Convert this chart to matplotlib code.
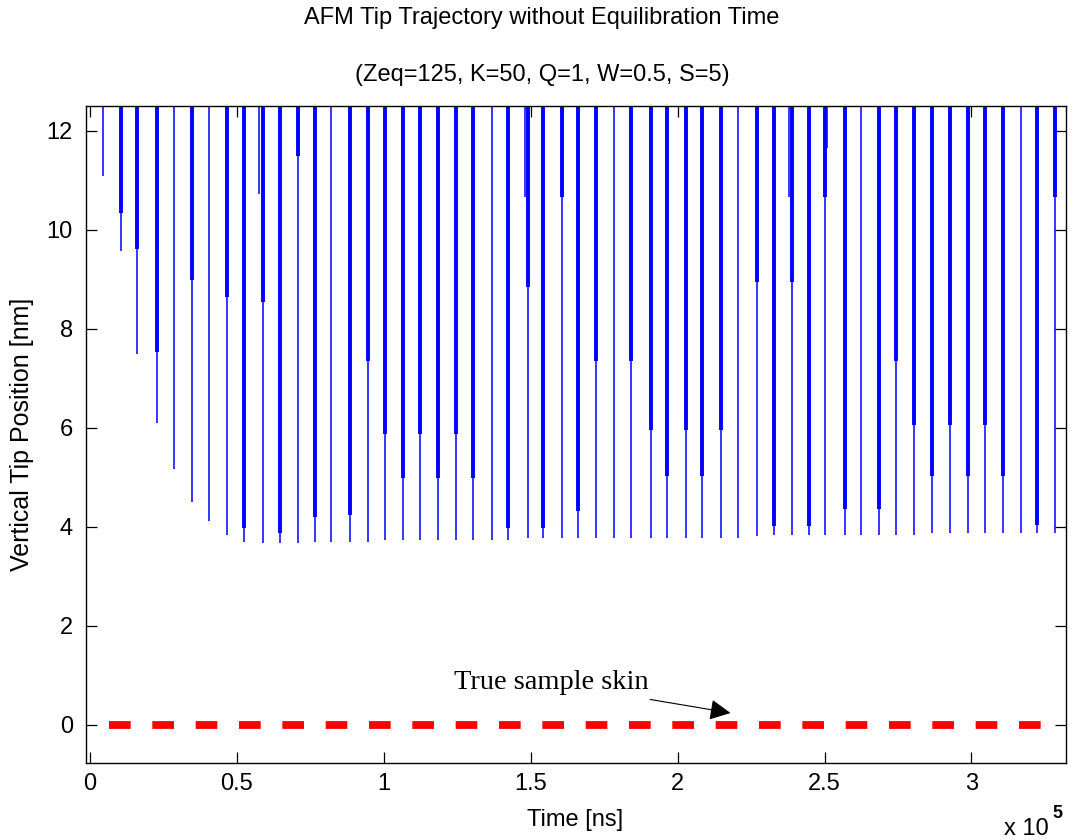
import numpy as np
import matplotlib
matplotlib.use('Agg')
from matplotlib import pyplot as plt

plt.rcParams['font.family'] = ['Liberation Sans', 'DejaVu Sans']
plt.rcParams['font.size'] = 17
plt.rcParams['lines.scale_dashes'] = False

# --- tip trajectory: one entry per tapping event ---
# tap time (ns), end of dense oscillation band (nm), deepest excursion (nm)
tap_t = np.array([4600, 10600, 16000, 22800, 28500, 34700, 40400, 46600, 52500, 58800,
                  64800, 70700, 76700, 82200, 88600, 94500, 100400, 106400, 112400, 118300,
                  124500, 130400, 136800, 142400, 149100, 154300, 160500, 166200, 172100, 178500,
                  184200, 190900, 196300, 202800, 208400, 214900, 220600, 226900, 232800, 238800,
                  244700, 250000, 256800, 262500, 268600, 274400, 280600, 286400, 292600, 298900,
                  304600, 310700, 316900, 322400, 328400])
band_z = np.array([np.nan, 10.34, 9.61, 7.53, np.nan, 8.99, np.nan, 8.64, 3.97, 8.55,
                   3.87, 11.48, 4.19, np.nan, 4.23, 7.34, 5.87, 4.98, 5.87, 4.98,
                   5.87, 4.98, np.nan, 3.97, 8.85, 3.97, 10.67, 4.31, 7.34, np.nan,
                   7.34, 5.96, 5.03, 5.96, 5.03, 5.96, np.nan, 8.94, 4.01, 8.94,
                   4.01, 10.67, 4.36, np.nan, 4.36, 7.34, 6.06, 5.03, 6.06, 5.03,
                   6.06, 5.03, np.nan, 4.04, 10.67])
min_z = np.array([11.09, 9.58, 7.49, 6.09, 5.17, 4.51, 4.11, 3.84, 3.70, 3.68,
                  3.68, 3.68, 3.70, 3.70, 3.70, 3.70, 3.74, 3.74, 3.74, 3.74,
                  3.74, 3.74, 3.74, 3.74, 3.77, 3.77, 3.77, 3.77, 3.77, 3.77,
                  3.77, 3.77, 3.77, 3.77, 3.77, 3.77, 3.77, 3.82, 3.84, 3.84,
                  3.84, 3.84, 3.84, 3.84, 3.84, 3.84, 3.84, 3.87, 3.87, 3.87,
                  3.87, 3.87, 3.87, 3.87, 3.87])

# short single swings that sit just beside a tap
side_t = np.array([57600, 148100, 161100, 237900, 250900])
side_z = np.array([10.72, 10.67, 11.62, 10.67, 11.65])

# sample surface
skin_t = np.array([6500, 323700])
skin_z = np.array([0.0, 0.0])

top_z = 13.0  # free oscillation runs off the top of the window

xticks = [0, 50000, 100000, 150000, 200000, 250000, 300000]
xticklabels = ['0', '0.5', '1', '1.5', '2', '2.5', '3']
yticks = [0, 2, 4, 6, 8, 10, 12]

fig = plt.figure(figsize=(10.72, 8.4), dpi=100)
ax = fig.add_axes([85.5 / 1072, 77 / 840, 980 / 1072, 657.5 / 840])

blue = '#0000FF'
ax.vlines(tap_t, min_z, top_z, color=blue, lw=1.1)
band = ~np.isnan(band_z)
ax.vlines(tap_t[band], band_z[band], top_z, color=blue, lw=2.8)
ax.vlines(side_t, side_z, top_z, color=blue, lw=1.1)

ax.plot(skin_t, skin_z, color='#FF0000', lw=5.6, dashes=(15.6, 15.6),
        solid_capstyle='butt', dash_capstyle='butt')

ax.annotate('True sample skin', xy=(218000, 0.24), xytext=(157000, 0.85),
            ha='center', va='center', fontsize=20.5, family=['Liberation Serif'],
            arrowprops=dict(arrowstyle='-|>', color='black', lw=0.8,
                            mutation_scale=32, shrinkA=6, shrinkB=0))

ax.set_xlim(-1500, 332000)
ax.set_ylim(-0.77, 12.51)
ax.set_xticks(xticks)
ax.set_xticklabels(xticklabels)
ax.set_yticks(yticks)
ax.tick_params(direction='in', length=8, width=0.9, top=True, right=True,
               labelsize=17)
ax.tick_params(axis='y', pad=9)
ax.tick_params(axis='x', pad=7)
for s in ax.spines.values():
    s.set_linewidth(1.0)

ax.set_xlabel('Time [ns]', fontsize=17, labelpad=10)
ax.set_ylabel('Vertical Tip Position [nm]', fontsize=18, labelpad=9)

fig.text(542 / 1072, 1 - 18 / 840, 'AFM Tip Trajectory without Equilibration Time',
         ha='center', va='center', fontsize=17)
fig.text(542 / 1072, 1 - 75 / 840, '(Zeq=125, K=50, Q=1, W=0.5, S=5)',
         ha='center', va='center', fontsize=17)
fig.text(1004 / 1072, 1 - 829 / 840, 'x 10', ha='left', va='center', fontsize=17)
fig.text(1052 / 1072, 1 - 814 / 840, '5', ha='left', va='center', fontsize=13,
         fontweight='bold')

fig.savefig('out.png', dpi=100)
